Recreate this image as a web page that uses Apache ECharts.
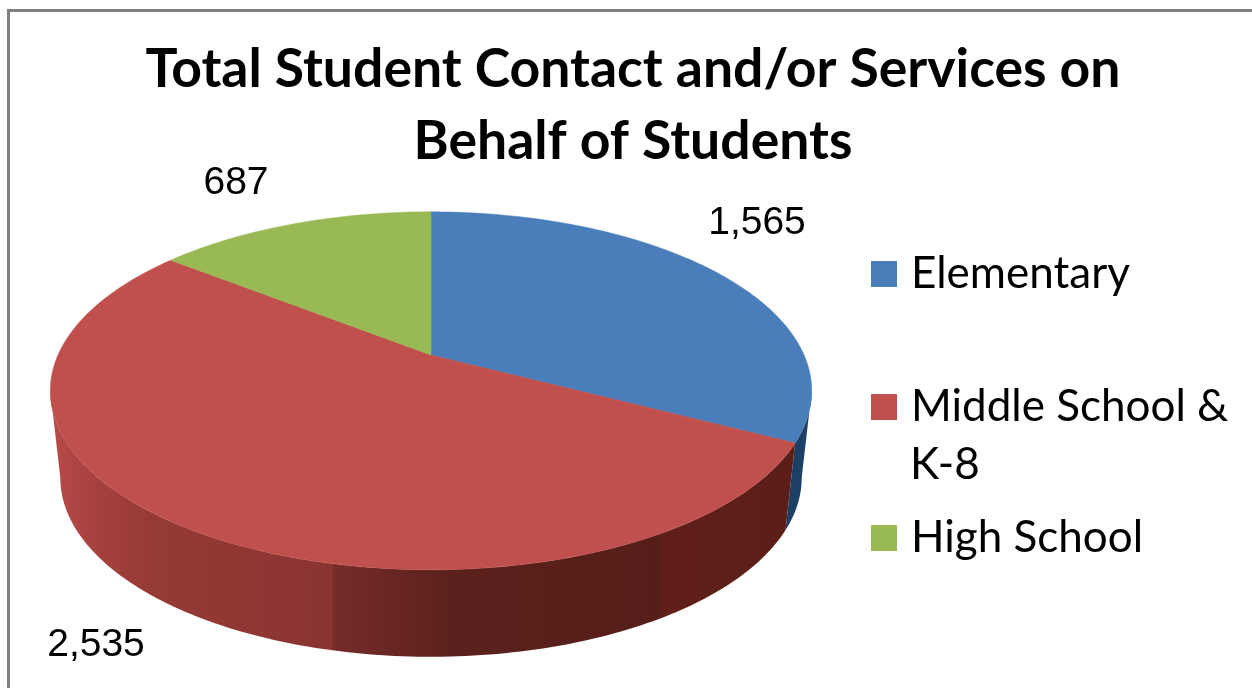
<!DOCTYPE html>
<html>
<head>
<meta charset="utf-8">
<style>
html, body { margin: 0; padding: 0; background: #fff; }
#chart { width: 1252px; height: 688px; }
</style>
<script src="https://cdn.jsdelivr.net/npm/echarts@6/dist/echarts.min.js"></script>
</head>
<body>
<div id="chart"></div>
<script>
const categories = ['Elementary', 'Middle School & K-8', 'High School'];
const values = [1565, 2535, 687];
const valueLabels = ['1,565', '2,535', '687'];

const top_colors = ['#4a7ebb', '#c0504d', '#98b954'];
const wall_colors = ['#1c3f66', '#6b2620', '#6f8a3c'];
const label_pos = [[757, 223], [96, 645], [236, 183]];
const legend_top = [252, 385, 516];

// pie geometry, a disc seen in perspective
const cx = 431, cy = 355;
const sx = 373, sy = 171.8, k = 0.2;
const depth = 87, bottom_scale = 371 / 381;
const total = values.reduce((a, b) => a + b, 0);

function project(deg, bottom) {
    const t = deg * Math.PI / 180;
    const x = Math.sin(t), y = -Math.cos(t);
    const w = 1 - k * y;
    const px = sx * x / w, py = sy * y / w;
    if (bottom) {
        return [cx + px * bottom_scale, cy + py + depth];
    }
    return [cx + px, cy + py];
}

function arc(from, to, bottom) {
    const pts = [];
    const n = Math.max(2, Math.ceil(Math.abs(to - from)));
    for (let i = 0; i <= n; i++) {
        pts.push(project(from + (to - from) * i / n, bottom));
    }
    return pts;
}

// left and right silhouette angles of the disc
const right_edge = Math.acos(-k) * 180 / Math.PI;
const left_edge = 360 - right_edge;

function wallFill(index) {
    if (index !== 1) {
        return wall_colors[index];
    }
    const a = 50, b = 812;
    const at = x => (x - a) / (b - a);
    return new echarts.graphic.LinearGradient(a, 0, b, 0, [
        { offset: 0, color: '#b84a4a' },
        { offset: at(90), color: '#a8423f' },
        { offset: at(150), color: '#963a36' },
        { offset: at(332), color: '#8a3431' },
        { offset: at(333), color: '#762c29' },
        { offset: at(450), color: '#5c211c' },
        { offset: at(660), color: '#561e18' },
        { offset: at(661), color: '#611f1a' },
        { offset: 1, color: '#5a1e17' }
    ], true);
}

function renderSlice(params, api) {
    const index = params.seriesIndex;
    let before = 0;
    for (let i = 0; i < index; i++) {
        before += values[i];
    }
    const start = before / total * 360;
    const end = start + api.value(0) / total * 360;
    const children = [];

    // visible wall only between the two silhouette angles
    const wall_from = Math.max(start, right_edge);
    const wall_to = Math.min(end, left_edge);
    if (wall_to > wall_from) {
        children.push({
            type: 'polygon',
            shape: { points: arc(wall_from, wall_to, false).concat(arc(wall_to, wall_from, true)) },
            style: { fill: wallFill(index) }
        });
    }
    children.push({
        type: 'polygon',
        z2: 10,
        shape: { points: [[cx, cy]].concat(arc(start, end, false)) },
        style: { fill: top_colors[index], stroke: top_colors[index], lineWidth: 0.5 }
    });
    children.push({
        type: 'text',
        z2: 20,
        x: label_pos[index][0],
        y: label_pos[index][1],
        style: {
            text: valueLabels[index],
            fill: '#000',
            font: '39px "Liberation Sans", Arial, sans-serif',
            align: 'center',
            verticalAlign: 'middle'
        }
    });
    return { type: 'group', children: children };
}

const legend_font = 'Lato';
const legend_size = 44;

const chart = echarts.init(document.getElementById('chart'));
chart.setOption({
    animation: false,
    backgroundColor: '#fff',
    title: {
        text: 'Total Student Contact and/or Services on\nBehalf of Students',
        left: 628,
        top: 29,
        textAlign: 'center',
        textStyle: {
            fontFamily: 'Lato',
            fontWeight: 'bold',
            fontSize: 53.5,
            lineHeight: 72,
            color: '#000'
        }
    },
    legend: categories.map((name, i) => ({
        data: [name],
        left: 871,
        top: legend_top[i],
        padding: 0,
        itemWidth: 26,
        itemHeight: 26,
        selectedMode: false,
        icon: 'rect',
        formatter: n => n.replace(' K-8', ''),
        textStyle: {
            fontFamily: legend_font,
            fontSize: legend_size,
            color: '#000',
            padding: [0, 0, 0, 9]
        }
    })),
    graphic: [
        { type: 'text', left: 910, top: 443, style: { text: 'K-8', fill: '#000', font: legend_size + 'px ' + legend_font } },
        { type: 'line', shape: { x1: 8.5, y1: 10, x2: 8.5, y2: 688 }, style: { stroke: '#808080', lineWidth: 3 } },
        { type: 'line', shape: { x1: 7, y1: 10.5, x2: 1252, y2: 10.5 }, style: { stroke: '#808080', lineWidth: 3 } }
    ],
    series: categories.map((name, i) => ({
        name: name,
        type: 'custom',
        coordinateSystem: 'none',
        renderItem: renderSlice,
        silent: true,
        itemStyle: { color: top_colors[i] },
        data: [[values[i]]]
    }))
});
</script>
</body>
</html>
